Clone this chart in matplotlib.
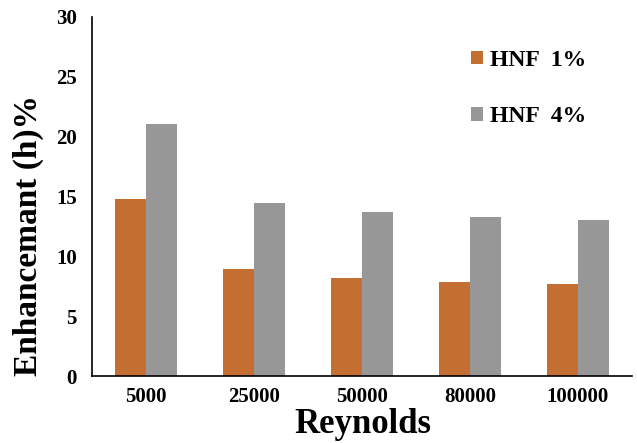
import numpy as np
import matplotlib
matplotlib.use("Agg")
import matplotlib.pyplot as plt

# data
reynolds = ["5000", "25000", "50000", "80000", "100000"]
hnf_1 = [14.76, 8.9, 8.2, 7.83, 7.66]
hnf_4 = [21.05, 14.48, 13.73, 13.26, 13.06]
series_labels = ["HNF  1%", "HNF  4%"]

plt.rcParams['font.family'] = ['Liberation Serif', 'DejaVu Serif']
plt.rcParams['font.weight'] = 'bold'

fig = plt.figure(figsize=(6.37, 4.43), dpi=100)
ax = fig.add_axes([92 / 637, 1 - 376 / 443, 540 / 637, 359 / 443])

x = np.arange(len(reynolds))
w = 0.287
ax.bar(x - w / 2, hnf_1, width=w, color='#C46E31', label=series_labels[0])
ax.bar(x + w / 2, hnf_4, width=w, color='#979797', label=series_labels[1])

ax.set_xlim(-0.5, len(reynolds) - 0.5)
ax.set_ylim(0, 30)
ax.set_yticks(range(0, 31, 5))
ax.set_xticks(x)
ax.set_xticklabels(reynolds)
ax.tick_params(axis='both', length=0, labelsize=15)
ax.tick_params(axis='x', pad=8)
ax.tick_params(axis='y', pad=11)
for lbl in ax.get_xticklabels() + ax.get_yticklabels():
    lbl.set_fontweight('bold')

for s in ['top', 'right']:
    ax.spines[s].set_visible(False)
for s in ['left', 'bottom']:
    ax.spines[s].set_linewidth(1.2)
    ax.spines[s].set_color('black')

fig.text(28 / 637, 1 - 235 / 443, "Enhancemant (h)%", rotation=90,
         ha='center', va='center', fontsize=24, fontweight='bold')
fig.text(363 / 637, 1 - 433 / 443, "Reynolds", ha='center', va='baseline',
         fontsize=25, fontweight='bold')

leg = fig.legend(loc='upper left', bbox_to_anchor=(459 / 637, 1 - 38 / 443),
                 frameon=False, fontsize=17, handlelength=0.5, handleheight=0.5,
                 handletextpad=0.3, labelspacing=1.5, borderpad=0)
for t in leg.get_texts():
    t.set_fontweight('bold')

fig.savefig("out.png", dpi=100)
